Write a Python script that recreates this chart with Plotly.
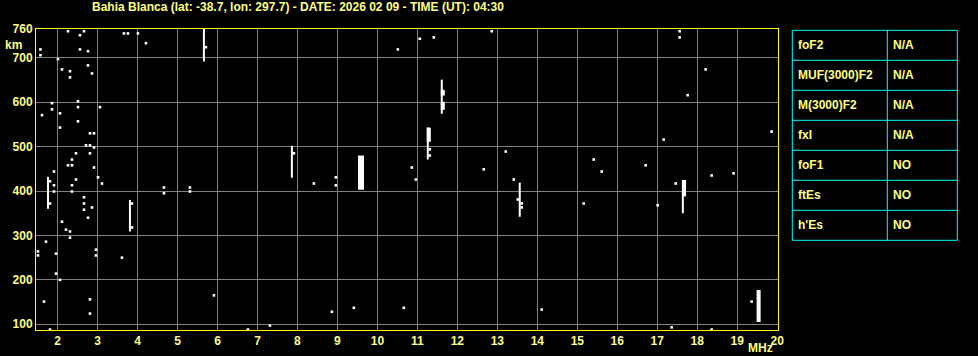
import plotly.graph_objects as go

# ---------------- data ----------------
title_text = "Bahia Blanca (lat: -38.7, lon: 297.7) - DATE: 2026 02 09 - TIME (UT): 04:30"

freq_ticks = list(range(2, 21))
height_ticks = [100, 200, 300, 400, 500, 600, 700, 765]
height_ticktext = ["100", "200", "300", "400", "500", "600", "700", "760"]

# isolated echoes (MHz, km)
dot_freq = [1.57, 1.57, 2.01, 2.11, 2.31, 2.31, 2.26, 2.56, 2.66, 2.56, 2.76, 2.76, 2.86,
            1.86, 1.86, 1.61, 2.06, 2.51, 2.51, 3.06, 3.66, 3.76, 4.01, 4.21, 5.71, 10.51,
            11.06, 11.41, 12.86, 2.06, 2.51, 2.81, 2.91, 2.71, 2.81, 2.91, 2.46, 2.81, 2.36,
            2.26, 2.36, 2.91, 1.91, 2.46, 3.01, 3.11, 2.36, 2.36, 1.91, 1.91, 1.81, 1.81,
            2.66, 2.66, 2.66, 2.86, 2.76, 2.11, 2.21, 2.31, 2.31, 1.71, 2.96, 3.86, 3.86,
            4.66, 4.66, 5.31, 5.31, 1.51, 1.51, 1.96, 2.96, 3.61, 1.96, 2.06, 1.66, 2.81,
            2.81, 5.91, 1.81, 6.76, 7.31, 8.86, 9.41, 10.66, 14.11, 17.36, 18.36, 19.36,
            8.41, 8.96, 8.96, 10.86, 10.96, 12.66, 13.21, 13.41, 13.51, 13.61, 13.61, 15.16,
            15.41, 17.56, 17.56, 18.21, 17.76, 19.86, 17.16, 15.61, 16.71, 18.36, 18.91,
            17.46, 17.01, 7.91, 11.31, 11.31]
dot_height = [719, 706, 697, 674, 670, 656, 760, 751, 760, 719, 715, 683, 665,
              598, 584, 571, 575, 602, 589, 589, 755, 755, 755, 733, 724, 719,
              743, 746, 760, 543, 557, 530, 530, 503, 503, 498, 485, 485, 471,
              458, 458, 453, 444, 426, 431, 417, 413, 399, 413, 399, 422, 372,
              386, 372, 358, 363, 340, 331, 313, 309, 295, 286, 268, 372, 318,
              408, 395, 408, 399, 264, 255, 259, 255, 250, 214, 200, 151, 156,
              124, 165, 88, 88, 97, 128, 137, 137, 133, 93, 88, 151,
              417, 431, 413, 453, 426, 449, 489, 426, 381, 372, 363, 372,
              471, 760, 746, 674, 616, 534, 516, 444, 458, 435, 440,
              417, 368, 485, 494, 480]

# continuous echo traces: thin ones
trace_freq = [5.66, 11.61, 11.26, 7.86, 1.76, 3.81, 13.56, 17.64]
trace_low = [692, 574, 471, 430, 360, 309, 342, 350]
trace_high = [765, 651, 543, 502, 432, 380, 419, 425]

# stronger (thicker) parts of traces
strong_freq = [11.635, 11.635, 11.285, 17.67, 19.535]
strong_low = [615, 583, 511, 388, 105]
strong_high = [628, 601, 543, 425, 177]

# strongest echo block
block_freq = [9.59]
block_low = [403]
block_high = [480]

# parameter table
param_names = ["foF2", "MUF(3000)F2", "M(3000)F2", "fxI", "foF1", "ftEs", "h'Es"]
param_values = ["N/A", "N/A", "N/A", "N/A", "NO", "NO", "NO"]

# ---------------- styling ----------------
FONT = "Liberation Sans, Arial, sans-serif"
TXT = "#ffff80"
AXIS_YELLOW = "#ffff00"
GRID = "#808080"
CYAN = "#00ffff"

W, H = 978, 356
L, R, T, B = 36, 200, 29, 26
PW, PH = W - L - R, H - T - B


def px_x(p):
    return (p - L) / PW


def px_y(p):
    return 1 - (p - T) / PH


def segs(f, lo, hi):
    xs, ys = [], []
    for a, b, c in zip(f, lo, hi):
        xs += [a, a, None]
        ys += [b, c, None]
    return xs, ys


fig = go.Figure()

for (f, lo, hi), w in [((trace_freq, trace_low, trace_high), 2),
                       ((strong_freq, strong_low, strong_high), 4),
                       ((block_freq, block_low, block_high), 6)]:
    xs, ys = segs(f, lo, hi)
    fig.add_trace(go.Scatter(x=xs, y=ys, mode="lines",
                             line=dict(color="white", width=w),
                             hoverinfo="skip", showlegend=False))

fig.add_trace(go.Scatter(x=dot_freq, y=dot_height, mode="markers",
                         marker=dict(symbol="square", size=2.6, color="white",
                                     line=dict(width=0)),
                         showlegend=False))

fig.update_layout(
    template="none",
    width=W, height=H,
    margin=dict(l=L, r=R, t=T, b=B, pad=0),
    paper_bgcolor="black", plot_bgcolor="black",
    font=dict(family=FONT, color=TXT, size=12, weight="bold"),
    showlegend=False,
)
fig.update_xaxes(range=[1.46, 20.02], tickvals=freq_ticks, showgrid=True,
                 gridcolor=GRID, gridwidth=1, zeroline=False,
                 showline=True, linecolor=AXIS_YELLOW, linewidth=1, mirror=True,
                 ticks="", ticklen=0, automargin=False,
                 tickfont=dict(family=FONT, color=TXT, size=12, weight="bold"))
fig.update_yaxes(range=[87, 765], tickvals=height_ticks, ticktext=height_ticktext,
                 showgrid=True, gridcolor=GRID, gridwidth=1, zeroline=False,
                 showline=True, linecolor=AXIS_YELLOW, linewidth=1, mirror=True,
                 ticks="", ticklen=0, automargin=False,
                 tickfont=dict(family=FONT, color=TXT, size=12, weight="bold"))

ann = []
ann.append(dict(text=title_text, xref="paper", yref="paper", x=px_x(90), y=px_y(7),
                xanchor="left", yanchor="middle", showarrow=False,
                font=dict(family=FONT, color=TXT, size=12, weight="bold")))
ann.append(dict(text="km", xref="paper", yref="paper", x=px_x(13), y=px_y(45),
                xanchor="center", yanchor="middle", showarrow=False,
                font=dict(family=FONT, color=TXT, size=12, weight="bold")))
ann.append(dict(text="MHz", xref="paper", yref="paper", x=px_x(760), y=px_y(348),
                xanchor="center", yanchor="middle", showarrow=False,
                font=dict(family=FONT, color=TXT, size=12, weight="bold")))

# table
shapes = []
tx0, tx1, tx2 = 792.3, 887.3, 957.3
ty0, rowh = 30.3, 30
n = len(param_names)
for k in range(n + 1):
    yy = px_y(ty0 + k * rowh)
    shapes.append(dict(type="line", xref="paper", yref="paper", x0=px_x(tx0), x1=px_x(tx2),
                       y0=yy, y1=yy, line=dict(color=CYAN, width=1)))
for xx in (tx0, tx1, tx2):
    shapes.append(dict(type="line", xref="paper", yref="paper", x0=px_x(xx), x1=px_x(xx),
                       y0=px_y(ty0), y1=px_y(ty0 + n * rowh), line=dict(color=CYAN, width=1)))
for k, (nm, vl) in enumerate(zip(param_names, param_values)):
    yc = px_y(ty0 + k * rowh + rowh / 2)
    ann.append(dict(text=nm, xref="paper", yref="paper", x=px_x(795.5), y=yc,
                    xanchor="left", yanchor="middle", showarrow=False,
                    font=dict(family=FONT, color=TXT, size=12, weight="bold")))
    ann.append(dict(text=vl, xref="paper", yref="paper", x=px_x(890.5), y=yc,
                    xanchor="left", yanchor="middle", showarrow=False,
                    font=dict(family=FONT, color=TXT, size=12, weight="bold")))

fig.update_layout(annotations=ann, shapes=shapes)
fig.write_html("out.html")
